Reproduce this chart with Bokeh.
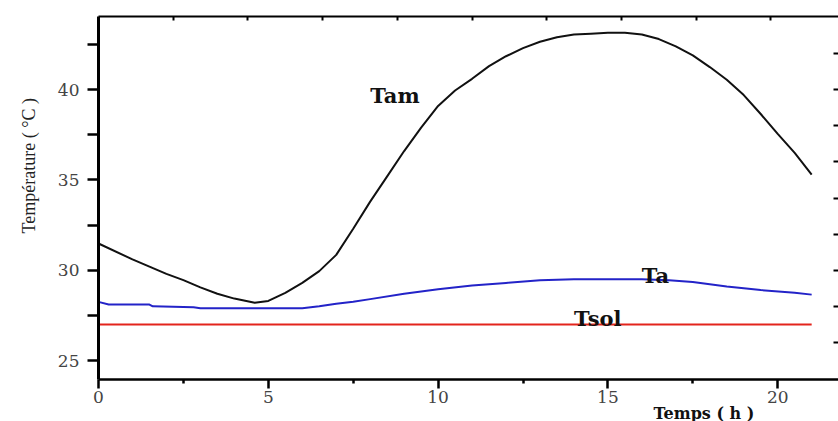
from bokeh.plotting import figure
from bokeh.models import Range1d, LinearAxis, FixedTicker, Label, Title
from bokeh.embed import file_html
from bokeh.resources import INLINE

# ---- data ----
t_am = [0, 1, 1.5, 2, 2.5, 3, 3.5, 4, 4.6, 5, 5.5, 6, 6.5, 7, 7.5, 8, 8.5, 9, 9.5, 10,
        10.5, 11, 11.5, 12, 12.5, 13, 13.5, 14, 14.5, 15, 15.5, 16, 16.5, 17, 17.5,
        18, 18.5, 19, 19.5, 20, 20.5, 21]
T_am = [31.48, 30.6, 30.2, 29.8, 29.45, 29.05, 28.7, 28.43, 28.2, 28.3, 28.75, 29.3,
        29.95, 30.85, 32.3, 33.8, 35.2, 36.6, 37.9, 39.1, 39.95, 40.6, 41.3, 41.85,
        42.3, 42.65, 42.9, 43.05, 43.1, 43.15, 43.15, 43.05, 42.8, 42.4, 41.9, 41.25,
        40.55, 39.7, 38.65, 37.55, 36.5, 35.3]

t_a = [0, 0.3, 1.5, 1.6, 2.8, 3, 6, 6.5, 7, 7.5, 8, 9, 10, 11, 12, 13, 14, 15, 16,
       16.8, 17.5, 18.5, 19.5, 20.5, 21]
T_a = [28.25, 28.1, 28.1, 28.0, 27.95, 27.9, 27.9, 28.0, 28.15, 28.25, 28.4, 28.7,
       28.95, 29.15, 29.3, 29.45, 29.5, 29.5, 29.5, 29.45, 29.35, 29.1, 28.9, 28.75,
       28.65]

t_sol = [0, 21]
T_sol = [27.0, 27.0]

x_major = [0, 5, 10, 15, 20]
x_minor = [2.5, 7.5, 12.5, 17.5]
y_major = [25, 30, 35, 40]
y_minor = [27.5, 32.5, 37.5, 42.5]
top_ticks = [2.2, 4.4, 6.6, 8.8, 11.0, 13.2, 15.4, 17.6, 19.8]
right_ticks = [26, 28, 30, 32, 34, 36, 38, 40, 42]

curve_labels = ["Tam", "Ta", "Tsol"]
label_x = [8.0, 16.0, 14.0]
label_y = [39.68, 29.71, 27.33]

x_title = "Temps ( h )"
y_title = "Température ( °C )"

# ---- figure ----
p = figure(width=838, height=421, output_backend="svg", toolbar_location=None,
           x_range=Range1d(0, 21.79), y_range=Range1d(23.95, 44.05),
           min_border_left=97, min_border_right=0, min_border_top=16,
           min_border_bottom=42)
p.outline_line_color = None
p.xgrid.visible = False
p.ygrid.visible = False
p.background_fill_color = "white"
p.border_fill_color = "white"

tick_font = "DejaVu Serif"

xa = p.xaxis[0]
xa.ticker = FixedTicker(ticks=x_major, minor_ticks=x_minor)
xa.axis_line_width = 2.5
xa.major_tick_line_width = 2.5
xa.minor_tick_line_width = 2.5
xa.major_tick_in = 0
xa.major_tick_out = 9
xa.minor_tick_in = 0
xa.minor_tick_out = 4
xa.major_label_standoff = 2
xa.major_label_text_font = tick_font
xa.major_label_text_font_size = "17px"
xa.major_label_text_color = "#444444"

ya = p.yaxis[0]
ya.ticker = FixedTicker(ticks=y_major, minor_ticks=y_minor)
ya.axis_line_width = 3
ya.major_tick_line_width = 2.5
ya.minor_tick_line_width = 2.5
ya.major_tick_in = 0
ya.major_tick_out = 11
ya.minor_tick_in = 0
ya.minor_tick_out = 11
ya.major_label_standoff = 8
ya.major_label_text_font = tick_font
ya.major_label_text_font_size = "17px"
ya.major_label_text_color = "#444444"

top = LinearAxis(ticker=FixedTicker(ticks=top_ticks, minor_ticks=[]))
top.axis_line_width = 2
top.major_tick_in = 4
top.major_tick_out = 0
top.major_tick_line_width = 2
top.minor_tick_line_color = None
top.major_label_overrides = {v: "" for v in top_ticks}
top.major_label_standoff = 0
p.add_layout(top, "above")

right = LinearAxis(ticker=FixedTicker(ticks=right_ticks, minor_ticks=[]))
right.axis_line_color = None
right.major_tick_in = 5
right.major_tick_out = 0
right.major_tick_line_width = 2
right.minor_tick_line_color = None
right.major_label_overrides = {v: "" for v in right_ticks}
right.major_label_standoff = 0
p.add_layout(right, "right")

# axis titles as side-panel titles, shifted along the axis like the reference
p.add_layout(Title(text=x_title, align="left", offset=555, standoff=-8,
                   text_font="DejaVu Serif", text_font_style="bold",
                   text_font_size="16px", text_color="#111111"), "below")
p.add_layout(Title(text=y_title, align="left", offset=146, standoff=32,
                   text_font="Liberation Serif", text_font_style="normal",
                   text_font_size="18px", text_color="#222222"), "left")

# ---- curves ----
p.line(t_sol, T_sol, line_color="#e3241c", line_width=2)
p.line(t_a, T_a, line_color="#2323c8", line_width=2)
p.line(t_am, T_am, line_color="#111111", line_width=2)

for txt, lx, ly in zip(curve_labels, label_x, label_y):
    p.add_layout(Label(x=lx, y=ly, text=txt, text_font="DejaVu Serif",
                       text_font_style="bold", text_font_size="21px",
                       text_color="#111111", text_baseline="alphabetic",
                       text_align="left"))

open("out.html", "w").write(file_html(p, INLINE))
